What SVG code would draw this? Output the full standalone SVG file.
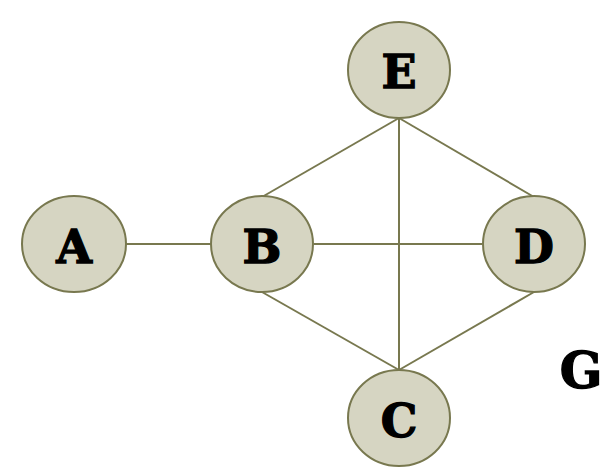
<svg xmlns="http://www.w3.org/2000/svg" width="609" height="475" viewBox="0 0 609 475">
<style>
.n{fill:#d6d5c2;stroke:#78784f;stroke-width:2}
.e{stroke:#78784f;stroke-width:2;fill:none}
.t{font-family:"DejaVu Serif","Liberation Serif",serif;font-weight:bold;font-size:46px;fill:#000;stroke:#000;stroke-width:1.3;text-anchor:middle}
</style>
<rect width="609" height="475" fill="#fff"/>
<g id="edges">
<line class="e" x1="126" y1="244" x2="211" y2="244"/>
<line class="e" x1="314" y1="244" x2="482" y2="244"/>
<line class="e" x1="399" y1="118" x2="399" y2="370"/>
<line class="e" x1="399" y1="118" x2="262" y2="197"/>
<line class="e" x1="399" y1="118" x2="534" y2="197"/>
<line class="e" x1="262" y1="292" x2="399" y2="370"/>
<line class="e" x1="534" y1="292" x2="399" y2="370"/>
</g>
<g id="E"><ellipse class="n" cx="399" cy="70" rx="51" ry="48"/><text class="t" x="399" y="88">E</text></g>
<g id="A"><ellipse class="n" cx="74" cy="244" rx="52" ry="48"/><text class="t" x="74" y="263">A</text></g>
<g id="B"><ellipse class="n" cx="262" cy="244" rx="51" ry="48"/><text class="t" x="262" y="263">B</text></g>
<g id="D"><ellipse class="n" cx="534" cy="244" rx="51" ry="48"/><text class="t" x="534" y="263">D</text></g>
<g id="C"><ellipse class="n" cx="399" cy="418" rx="51" ry="48"/><text class="t" x="399" y="437">C</text></g>
<text class="t" x="581" y="388" style="font-size:50px">G</text>
</svg>
